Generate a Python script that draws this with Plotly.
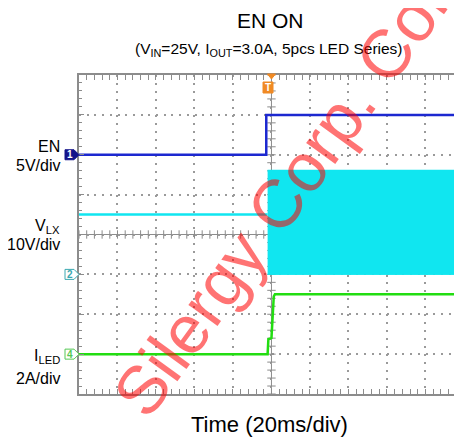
import plotly.graph_objects as go

# ---------------- data ----------------
# time in ms (20 ms/div, trigger at screen centre = 0 ms)
en_t = [-100, -2.7, -2.7, 99]
en_v = [0.0, 0.0, 5.0, 5.0]            # EN, V (5 V/div)

vlx_low_t = [-100, -2.0]
vlx_low_v = [15.0, 15.0]               # VLX before switching, V (10 V/div)
vlx_band_t = [-2.0, 99]
vlx_band_top = [26.0, 26.0]            # switching envelope top, V
vlx_band_bot = [0.0, 0.0]              # switching envelope bottom, V

iled_t = [-100, -2.0, -1.6, 0.0, 1.2, 1.8, 99]
iled_a = [0.0, 0.0, 0.75, 0.8, 2.9, 3.0, 3.0]   # ILED, A (2 A/div)

title_text = "EN ON"
subtitle_text = "(V<sub>IN</sub>=25V, I<sub>OUT</sub>=3.0A, 5pcs LED Series)"
xlabel_text = "Time (20ms/div)"
ch_labels = [("EN", "5V/div"), ("V<sub>LX</sub>", "10V/div"), ("I<sub>LED</sub>", "2A/div")]
watermark = "Silergy Corp. Confidential"

# ---------------- styling ----------------
FONT = "Liberation Sans, Arial, sans-serif"
C_EN = "#1c28d0"
C_VLX = "#10e6f0"
C_ILED = "#22dd11"
GRID = "#9a9a9a"
BORDER = "#8c8c8c"

OFF = 8                      # page body margin offset
W, H = 462 - OFF, 439 - OFF
L, R, T, B = 79 - OFF, 0, 75 - OFF, 439 - 394

fig = go.Figure()

# centre-line tick marks (graticule decoration)
cx_ticks = [-100 + 4 * k for k in range(50)]
cy_ticks = [-30 + k for k in range(41)]
fig.add_trace(go.Scatter(x=cx_ticks, y=[-10] * len(cx_ticks), mode="markers",
                         marker=dict(symbol="line-ns-open", size=6, color=BORDER,
                                     line=dict(color=BORDER, width=1)),
                         hoverinfo="skip", showlegend=False, yaxis="y"))
fig.add_trace(go.Scatter(x=[0] * len(cy_ticks), y=cy_ticks, mode="markers",
                         marker=dict(symbol="line-ew-open", size=6, color=BORDER,
                                     line=dict(color=BORDER, width=1)),
                         hoverinfo="skip", showlegend=False, yaxis="y"))

# VLX switching band
fig.add_trace(go.Scatter(x=vlx_band_t, y=vlx_band_bot, mode="lines",
                         line=dict(color=C_VLX, width=1), yaxis="y2",
                         showlegend=False, hoverinfo="skip"))
fig.add_trace(go.Scatter(x=vlx_band_t, y=vlx_band_top, mode="lines",
                         line=dict(color=C_VLX, width=2), fill="tonexty",
                         fillcolor=C_VLX, yaxis="y2", showlegend=False))
fig.add_trace(go.Scatter(x=vlx_low_t, y=vlx_low_v, mode="lines",
                         line=dict(color=C_VLX, width=2.5), yaxis="y2",
                         showlegend=False))
# EN
fig.add_trace(go.Scatter(x=en_t, y=en_v, mode="lines",
                         line=dict(color=C_EN, width=2.5), yaxis="y",
                         showlegend=False))
# ILED
fig.add_trace(go.Scatter(x=iled_t, y=iled_a, mode="lines",
                         line=dict(color=C_ILED, width=2.5), yaxis="y3",
                         showlegend=False))

axis_common = dict(showticklabels=False, ticks="inside", ticklen=5,
                   tickcolor=BORDER, tickwidth=1, showgrid=True,
                   gridcolor=GRID, gridwidth=1.5, showline=True,
                   linecolor=BORDER, linewidth=2, zeroline=False,
                   fixedrange=True)

fig.update_layout(
    width=W, height=H,
    margin=dict(l=L, r=R, t=T, b=B, pad=0),
    paper_bgcolor="white", plot_bgcolor="white",
    font=dict(family=FONT, color="black"),
    xaxis=dict(range=[-100, 99], dtick=20, tick0=-100, mirror="allticks",
               griddash="2px,5.98px",
               minor=dict(dtick=4, ticks="inside", ticklen=3,
                          tickcolor=BORDER, showgrid=False),
               **axis_common),
    yaxis=dict(range=[-30, 10], dtick=5, tick0=-30, mirror=False,
               griddash="2px,5.7px",
               minor=dict(dtick=1, ticks="inside", ticklen=3,
                          tickcolor=BORDER, showgrid=False),
               **axis_common),
    yaxis2=dict(range=[-30, 50], overlaying="y", visible=False, fixedrange=True),
    yaxis3=dict(range=[-2, 14], overlaying="y", visible=False, fixedrange=True),
)

shapes = [
    # centre cross lines
    dict(type="line", xref="x", yref="paper", x0=0, x1=0, y0=0, y1=1,
         line=dict(color=BORDER, width=1), layer="below"),
    dict(type="line", xref="paper", yref="y", x0=0, x1=1, y0=-10, y1=-10,
         line=dict(color=BORDER, width=1), layer="below"),
]

marker_path = "M-14,5 L-5,5 L0,0 L-5,-5 L-14,-5 Z"
ch_markers = [("1", "y", 0.0, "#14148a", "#14148a", "white"),
              ("2", "y2", 0.0, "white", "#3aa8b0", "#3aa8b0"),
              ("4", "y3", 0.0, "white", "#55c855", "#55c855")]
annotations = []
for num, yr, yv, fill, edge, tcol in ch_markers:
    shapes.append(dict(type="path", xref="paper", yref=yr,
                       xsizemode="pixel", ysizemode="pixel",
                       xanchor=0, yanchor=yv, path=marker_path,
                       fillcolor=fill, line=dict(color=edge, width=1)))
    annotations.append(dict(text="<b>%s</b>" % num, xref="paper", yref=yr,
                            x=0, y=yv, xshift=-9, showarrow=False,
                            font=dict(size=10, color=tcol, family=FONT),
                            xanchor="center", yanchor="middle"))

# trigger marker (top) and trigger level arrow (right)
shapes.append(dict(type="path", xref="x", yref="paper", xsizemode="pixel",
                   ysizemode="pixel", xanchor=0, yanchor=1,
                   path="M-4,1 L4,1 L0,-4 Z", fillcolor="#f08a24",
                   line=dict(color="#f08a24", width=1)))
shapes.append(dict(type="path", xref="x", yref="paper", xsizemode="pixel",
                   ysizemode="pixel", xanchor=-1.8, yanchor=1,
                   path="M-5,-7 L5,-7 L5,-18 L-5,-18 Z", fillcolor="#f08a24",
                   line=dict(color="#f08a24", width=1)))
annotations.append(dict(text="<b>T</b>", xref="x", yref="paper", x=-1.8, y=1,
                        yshift=-12.5, showarrow=False,
                        font=dict(size=10, color="white", family=FONT),
                        xanchor="center", yanchor="middle"))
shapes.append(dict(type="path", xref="paper", yref="y", xsizemode="pixel",
                   ysizemode="pixel", xanchor=1, yanchor=2.4,
                   path="M-8,0 L-3,3.5 L-3,-3.5 Z M-3,-1 L0,-1 L0,1 L-3,1 Z",
                   fillcolor=C_EN, line=dict(color=C_EN, width=1)))

# positions given in reference-picture pixels
def py(ypix):
    return (H - B - (ypix - OFF)) / (H - T - B)

def px(xpix):
    return ((xpix - OFF) - L) / (W - L - R)

annotations += [
    dict(text=title_text, xref="paper", yref="paper", x=px(270), y=py(20),
         showarrow=False, font=dict(size=21, family=FONT),
         xanchor="center", yanchor="middle"),
    dict(text=subtitle_text, xref="paper", yref="paper", x=px(269), y=py(50),
         showarrow=False, font=dict(size=15.5, family=FONT),
         xanchor="center", yanchor="middle"),
    dict(text=xlabel_text, xref="paper", yref="paper", x=px(269), y=py(424),
         showarrow=False, font=dict(size=22, family=FONT),
         xanchor="center", yanchor="middle"),
]
label_y = [(146, 165), (226, 244), (356, 378)]
for (name, scale), (y1, y2) in zip(ch_labels, label_y):
    annotations.append(dict(text=name, xref="paper", yref="paper", x=px(62),
                            y=py(y1), showarrow=False,
                            font=dict(size=16, family=FONT),
                            xanchor="right", yanchor="middle"))
    annotations.append(dict(text=scale, xref="paper", yref="paper", x=px(62),
                            y=py(y2), showarrow=False,
                            font=dict(size=16, family=FONT),
                            xanchor="right", yanchor="middle"))

# watermark
annotations.append(dict(text=watermark, xref="paper", yref="paper",
                        x=px(355), y=py(96), showarrow=False, textangle=-54,
                        font=dict(size=68, family=FONT,
                                  color="rgba(255,0,0,0.55)"),
                        xanchor="center", yanchor="middle"))

fig.update_layout(shapes=shapes, annotations=annotations)
fig.write_html("out.html", config={"displayModeBar": False})
